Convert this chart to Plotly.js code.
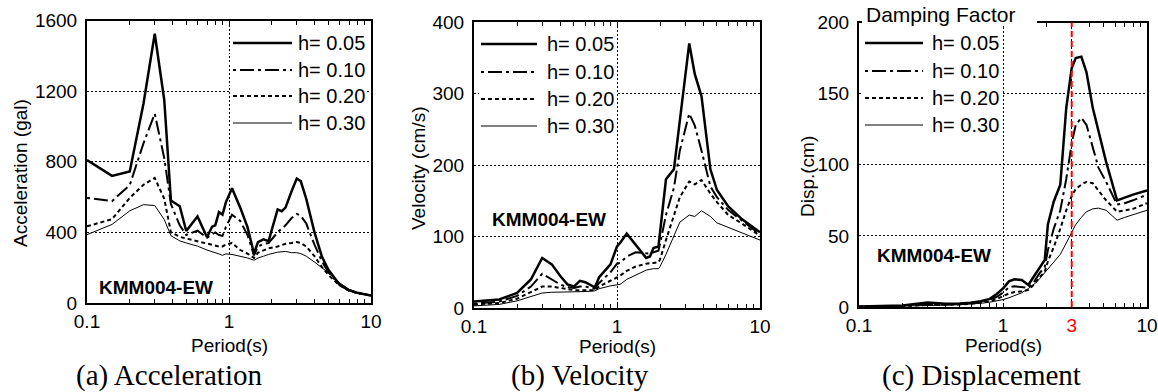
<!DOCTYPE html>
<html>
<head>
<meta charset="utf-8">
<script src="https://cdn.plot.ly/plotly-3.0.1.min.js"></script>
<style>html,body{margin:0;padding:0;background:#fff;}#chart{width:1158px;height:392px;}</style>
</head>
<body>
<div id="chart"></div>
<script>
// ---------------- DATA ----------------
const dampingLabels = ['h= 0.05', 'h= 0.10', 'h= 0.20', 'h= 0.30'];

// (a) Acceleration response spectra (gal)
const accPeriod = [0.1, 0.15, 0.2, 0.25, 0.3, 0.35, 0.39, 0.45, 0.5, 0.6, 0.7, 0.76, 0.8, 0.85, 0.9, 0.95, 1.05, 1.2, 1.35, 1.5, 1.6, 1.75, 1.9, 2.2, 2.35, 2.5, 2.75, 3.0, 3.2, 3.5, 4.0, 4.5, 5.0, 6.0, 7.0, 8.0, 10];
const accH05 = [810, 720, 745, 1130, 1525, 1150, 580, 548, 408, 490, 372, 432, 440, 515, 500, 570, 650, 540, 430, 280, 345, 360, 350, 530, 520, 540, 630, 705, 690, 590, 400, 265, 190, 105, 72, 58, 42];
const accH10 = [595, 577, 668, 905, 1072, 820, 560, 440, 385, 410, 370, 390, 400, 385, 380, 430, 500, 465, 385, 270, 320, 335, 340, 400, 420, 440, 480, 505, 495, 450, 330, 238, 175, 103, 71, 57, 42];
const accH20 = [434, 475, 595, 670, 708, 590, 400, 375, 365, 350, 338, 330, 325, 320, 320, 330, 340, 300, 280, 255, 285, 300, 310, 320, 328, 335, 340, 346, 340, 320, 265, 205, 160, 100, 70, 56, 42];
const accH30 = [387, 445, 522, 557, 552, 473, 381, 352, 340, 322, 300, 292, 285, 278, 270, 278, 275, 265, 255, 242, 255, 265, 275, 288, 291, 292, 285, 285, 280, 265, 232, 200, 172, 115, 78, 60, 43];

// (b) Velocity response spectra (cm/s)
const velPeriod = [0.1, 0.15, 0.2, 0.25, 0.3, 0.35, 0.4, 0.45, 0.5, 0.55, 0.6, 0.7, 0.75, 0.9, 1.0, 1.05, 1.17, 1.35, 1.6, 1.7, 1.8, 1.95, 2.0, 2.2, 2.5, 2.75, 3.2, 3.5, 3.9, 4.5, 5.0, 6.0, 7.5, 10];
const velH05 = [9, 12, 21, 40, 70, 61, 45, 33, 30, 38, 36, 29, 43, 61, 86, 91, 104, 89, 70, 72, 84, 86, 105, 180, 194, 259, 370, 327, 296, 194, 165, 142, 124, 106];
const velH10 = [6, 9, 17, 30, 48, 40, 33, 29, 28, 30, 30, 27, 35, 50, 62, 63, 72, 78, 76, 76, 78, 80, 90, 130, 168, 220, 272, 255, 220, 170, 155, 137, 122, 103];
const velH20 = [5, 7, 13, 22, 30, 30, 28, 26, 25, 25, 25, 25, 30, 38, 42, 45, 52, 58, 62, 62, 63, 64, 68, 95, 130, 155, 177, 173, 179, 160, 148, 130, 118, 101];
const velH30 = [3, 5, 10, 16, 21, 22, 22, 22, 22, 22, 23, 24, 27, 31, 33, 33, 40, 46, 53, 54, 55, 55, 58, 75, 100, 120, 130, 128, 136, 128, 119, 113, 105, 95];

// (c) Displacement response spectra (cm)
const dispPeriod = [0.1, 0.2, 0.3, 0.4, 0.5, 0.6, 0.7, 0.8, 0.9, 1.0, 1.1, 1.2, 1.35, 1.5, 1.65, 1.8, 1.95, 2.05, 2.25, 2.5, 2.75, 3.0, 3.2, 3.5, 3.8, 4.2, 4.6, 5.2, 6.2, 7.0, 8.0, 10];
const dispH05 = [0.3, 1.0, 3.2, 2.2, 2.5, 3.0, 4.0, 5.5, 9, 13, 18, 19.5, 19, 15.5, 22, 28, 33, 58, 74, 86, 140, 168, 175, 176, 165, 140, 124, 102, 75, 77, 79, 82];
const dispH10 = [0.2, 0.8, 2.2, 1.8, 2.2, 2.7, 3.5, 5, 7, 10, 14, 14.5, 14, 13.5, 18, 24, 28, 40, 55, 68, 90, 115, 128, 133, 128, 112, 98, 88, 72, 73, 75, 79];
const dispH20 = [0.15, 0.6, 1.5, 1.5, 1.8, 2.3, 3, 4, 5.5, 7.5, 9.5, 10.5, 11, 12, 16, 21, 25, 32, 42, 55, 68, 78, 83, 86, 88, 87, 82, 75, 67, 68, 69, 73];
const dispH30 = [0.1, 0.5, 1.2, 1.3, 1.6, 2, 2.6, 3.3, 4.2, 5.2, 6.5, 8, 10, 13, 16, 20, 24, 27, 31, 37, 45, 53, 58, 63, 67, 69, 69.5, 68, 61, 63, 65, 68];

const xTickVals = [0.1, 1, 10];
const xTickText = ['0.1', '1', '10'];
const minorVals = [0.2, 0.3, 0.4, 0.5, 0.6, 0.7, 0.8, 0.9, 2, 3, 4, 5, 6, 7, 8, 9];
const accTicks = [0, 400, 800, 1200, 1600];
const velTicks = [0, 100, 200, 300, 400];
const dispTicks = [0, 50, 100, 150, 200];
const focusPeriod = 3;

// ---------------- STYLE / LAYOUT ----------------
const W = 1158, H = 392;
const SANS = 'Liberation Sans, Arial, Helvetica, sans-serif';
const SERIF = 'Liberation Serif, Times New Roman, serif';
const px = v => v / W;
const py = v => 1 - v / H;

const styles = [
  {width: 2.5, dash: 'solid'},
  {width: 2, dash: '3px,4px,14px,4px'},
  {width: 2, dash: '4px,3px'},
  {width: 1, dash: 'solid'}
];

const panels = [
  {T: accPeriod, Y: [accH05, accH10, accH20, accH30], box: {l: 87, r: 371, t: 20.5, b: 303}, yr: [0, 1600], yt: accTicks},
  {T: velPeriod, Y: [velH05, velH10, velH20, velH30], box: {l: 474, r: 760, t: 22, b: 308}, yr: [0, 400], yt: velTicks},
  {T: dispPeriod, Y: [dispH05, dispH10, dispH20, dispH30], box: {l: 859, r: 1147, t: 22.5, b: 307}, yr: [0, 200], yt: dispTicks}
];

const data = [];
const layout = {
  width: W, height: H,
  margin: {l: 0, r: 0, t: 0, b: 0},
  paper_bgcolor: '#fff', plot_bgcolor: '#fff',
  showlegend: false,
  font: {family: SANS, size: 19, color: '#000'},
  shapes: [], annotations: []
};

panels.forEach((p, i) => {
  const n = i === 0 ? '' : String(i + 1);
  p.Y.forEach((ys, k) => {
    data.push({
      type: 'scatter', mode: 'lines', x: p.T, y: ys,
      xaxis: 'x' + n, yaxis: 'y' + n, name: dampingLabels[k],
      line: {color: '#000', width: styles[k].width, dash: styles[k].dash},
      hoverinfo: 'skip'
    });
  });
  const tv = xTickVals.slice(), tt = xTickText.slice();
  if (i === 2) { tv.splice(2, 0, focusPeriod); tt.splice(2, 0, '<span style="color:#ff0000">' + focusPeriod + '</span>'); }
  layout['xaxis' + n] = {
    type: 'log', range: [-1, 1], domain: [px(p.box.l), px(p.box.r)], anchor: 'y' + n,
    tickmode: 'array', tickvals: tv, ticktext: tt,
    ticks: 'inside', ticklen: 4, tickwidth: 1, tickcolor: '#000',
    minor: {tickmode: 'array', tickvals: minorVals, ticks: 'inside', ticklen: 4, tickwidth: 1, tickcolor: '#000', showgrid: false},
    showline: true, linewidth: 2, linecolor: '#000', mirror: 'allticks',
    showgrid: true, gridcolor: '#000', gridwidth: 1, griddash: '2px,2px',
    zeroline: false, tickfont: {size: 19, family: SANS}, ticklabelstandoff: 0, fixedrange: true
  };
  layout['yaxis' + n] = {
    range: p.yr, domain: [py(p.box.b), py(p.box.t)], anchor: 'x' + n,
    tickmode: 'array', tickvals: p.yt, ticks: '',
    showline: true, linewidth: 2, linecolor: '#000', mirror: true,
    showgrid: true, gridcolor: '#000', gridwidth: 1, griddash: '2px,2px',
    zeroline: false, tickfont: {size: 19, family: SANS}, ticklabelstandoff: 4, fixedrange: true
  };
});

// white legend backgrounds
const bgRects = [
  [231, 28, 366, 137],
  [479, 30, 616, 138],
  [862, 2, 1037, 26],
  [862, 26, 1001, 138]
];
bgRects.forEach(r => layout.shapes.push({
  type: 'rect', xref: 'paper', yref: 'paper', layer: 'above',
  x0: px(r[0]), x1: px(r[2]), y0: py(r[3]), y1: py(r[1]),
  fillcolor: '#fff', line: {width: 0}
}));

// legend entries
const legendPos = [
  {x0: 233, x1: 292, tx: 296, rows: [43, 70, 96, 123]},
  {x0: 481, x1: 537, tx: 545, rows: [44, 72, 99, 126]},
  {x0: 865, x1: 923, tx: 930, rows: [43, 71, 98, 125]}
];
legendPos.forEach(lp => {
  lp.rows.forEach((ry, k) => {
    layout.shapes.push({
      type: 'line', xref: 'paper', yref: 'paper', layer: 'above',
      x0: px(lp.x0), x1: px(lp.x1), y0: py(ry), y1: py(ry),
      line: {color: '#000', width: styles[k].width, dash: styles[k].dash}
    });
    layout.annotations.push({
      xref: 'paper', yref: 'paper', x: px(lp.tx), y: py(ry), xanchor: 'left', yanchor: 'middle',
      text: dampingLabels[k], showarrow: false, font: {size: 20, family: SANS}
    });
  });
});

// red reference line at T = 3 s
layout.shapes.push({
  type: 'line', xref: 'x3', yref: 'y3 domain', layer: 'above',
  x0: focusPeriod, x1: focusPeriod, y0: 0, y1: 1,
  line: {color: '#ff0000', width: 2, dash: '6px,4px'}
});

const ann = (x, y, text, opts) => layout.annotations.push(Object.assign({
  xref: 'paper', yref: 'paper', x: px(x), y: py(y), text: text, showarrow: false,
  xanchor: 'center', yanchor: 'middle', font: {size: 19, family: SANS, color: '#000'}
}, opts || {}));

ann(864, 15, 'Damping Factor', {xanchor: 'left', font: {size: 21, family: SANS}});
ann(97, 287, '<b>KMM004-EW</b>', {xanchor: 'left', font: {size: 19, family: SANS}});
ann(490, 220, '<b>KMM004-EW</b>', {xanchor: 'left', font: {size: 19, family: SANS}});
ann(875, 255, '<b>KMM004-EW</b>', {xanchor: 'left', font: {size: 19, family: SANS}});

ann(20, 173, 'Acceleration (gal)', {textangle: -90});
ann(418, 168, 'Velocity (cm/s)', {textangle: -90});
ann(808, 177, 'Disp.(cm)', {textangle: -90});

ann(229, 345, 'Period(s)');
ann(617, 346, 'Period(s)');
ann(1003, 345, 'Period(s)');

ann(169, 375, '(a) Acceleration', {font: {size: 29, family: SERIF}});
ann(580, 375, '(b) Velocity', {font: {size: 29, family: SERIF}});
ann(981, 375, '(c) Displacement', {font: {size: 29, family: SERIF}});

Plotly.newPlot('chart', data, layout, {displayModeBar: false, staticPlot: true});
</script>
</body>
</html>
